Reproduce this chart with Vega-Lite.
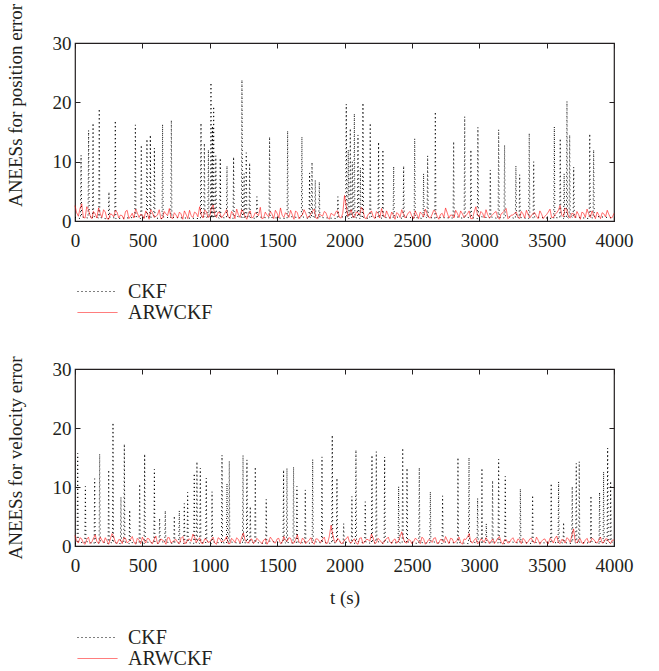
{
"$schema": "https://vega.github.io/schema/vega-lite/v6.json",
"padding": {"left": 5, "top": 2, "right": 5, "bottom": 2},
"bounds": "flush",
"spacing": 148,
"config": {
  "font": "Liberation Serif",
  "view": {"stroke": "#231f20", "strokeWidth": 1.2},
  "axis": {"labelFont": "Liberation Serif", "labelFontSize": 19, "labelColor": "#231f20", "titleFont": "Liberation Serif", "titleFontSize": 19, "titleFontWeight": "normal", "titleColor": "#231f20", "domain": false, "grid": false, "tickColor": "#231f20", "tickSize": -5, "labelFlush": false, "labelOverlap": false, "format": "d"},
  "axisX": {"labelPadding": 15},
  "axisY": {"labelPadding": 9, "titlePadding": 27},
  "legend": {"title": null, "orient": "none", "legendX": 12, "symbolType": "M-2,0H2", "symbolSize": 400, "symbolStrokeWidth": 1.3, "labelFont": "Liberation Serif", "labelFontSize": 20, "labelColor": "#231f20", "labelOffset": 20, "rowPadding": 0},
  "line": {"clip": true}
},
"datasets": {
"position": [
{"series":"CKF","t":0,"v":0.6},
{"series":"CKF","t":41,"v":0.4},{"series":"CKF","t":45,"v":11.1},{"series":"CKF","t":49,"v":0.7},
{"series":"CKF","t":97,"v":0.5},{"series":"CKF","t":101,"v":15.3},{"series":"CKF","t":105,"v":0.9},
{"series":"CKF","t":130,"v":0.4},{"series":"CKF","t":134,"v":16.5},{"series":"CKF","t":138,"v":0.8},
{"series":"CKF","t":176,"v":0.5},{"series":"CKF","t":180,"v":18.9},{"series":"CKF","t":184,"v":0.6},
{"series":"CKF","t":248,"v":0.3},{"series":"CKF","t":252,"v":4.9},{"series":"CKF","t":256,"v":0.7},
{"series":"CKF","t":295,"v":0.5},{"series":"CKF","t":299,"v":16.9},{"series":"CKF","t":303,"v":0.4},
{"series":"CKF","t":444,"v":0.6},{"series":"CKF","t":448,"v":16.2},{"series":"CKF","t":452,"v":0.8},
{"series":"CKF","t":488,"v":0.4},{"series":"CKF","t":492,"v":12.8},{"series":"CKF","t":496,"v":0.7},
{"series":"CKF","t":530,"v":0.5},{"series":"CKF","t":534,"v":13.8},{"series":"CKF","t":538,"v":0.9},
{"series":"CKF","t":555,"v":0.4},{"series":"CKF","t":559,"v":14.5},{"series":"CKF","t":563,"v":0.6},
{"series":"CKF","t":585,"v":0.8},{"series":"CKF","t":589,"v":12.3},{"series":"CKF","t":593,"v":0.5},
{"series":"CKF","t":646,"v":0.4},{"series":"CKF","t":650,"v":16.3},{"series":"CKF","t":654,"v":0.7},
{"series":"CKF","t":711,"v":0.5},{"series":"CKF","t":715,"v":17.0},{"series":"CKF","t":719,"v":0.6},
{"series":"CKF","t":931,"v":0.4},{"series":"CKF","t":935,"v":16.5},{"series":"CKF","t":939,"v":0.8},
{"series":"CKF","t":956,"v":0.5},{"series":"CKF","t":960,"v":13.1},{"series":"CKF","t":964,"v":0.9},
{"series":"CKF","t":986,"v":0.4},{"series":"CKF","t":990,"v":12.0},{"series":"CKF","t":994,"v":0.6},
{"series":"CKF","t":1005,"v":0.7},{"series":"CKF","t":1009,"v":23.3},{"series":"CKF","t":1013,"v":0.5},
{"series":"CKF","t":1016,"v":0.8},{"series":"CKF","t":1020,"v":16.0},{"series":"CKF","t":1024,"v":0.6},
{"series":"CKF","t":1025,"v":0.4},{"series":"CKF","t":1029,"v":19.3},{"series":"CKF","t":1033,"v":0.7},
{"series":"CKF","t":1041,"v":0.5},{"series":"CKF","t":1045,"v":11.0},{"series":"CKF","t":1049,"v":0.8},
{"series":"CKF","t":1074,"v":0.4},{"series":"CKF","t":1078,"v":10.6},{"series":"CKF","t":1082,"v":0.6},
{"series":"CKF","t":1124,"v":0.5},{"series":"CKF","t":1128,"v":9.3},{"series":"CKF","t":1132,"v":0.7},
{"series":"CKF","t":1173,"v":0.4},{"series":"CKF","t":1177,"v":10.8},{"series":"CKF","t":1181,"v":0.9},
{"series":"CKF","t":1235,"v":0.6},{"series":"CKF","t":1239,"v":23.8},{"series":"CKF","t":1243,"v":0.5},
{"series":"CKF","t":1251,"v":0.7},{"series":"CKF","t":1255,"v":8.0},{"series":"CKF","t":1259,"v":0.4},
{"series":"CKF","t":1267,"v":0.6},{"series":"CKF","t":1271,"v":11.5},{"series":"CKF","t":1275,"v":0.8},
{"series":"CKF","t":1292,"v":0.5},{"series":"CKF","t":1296,"v":9.8},{"series":"CKF","t":1300,"v":0.6},
{"series":"CKF","t":1346,"v":0.4},{"series":"CKF","t":1350,"v":4.1},{"series":"CKF","t":1354,"v":0.7},
{"series":"CKF","t":1440,"v":0.5},{"series":"CKF","t":1444,"v":14.2},{"series":"CKF","t":1448,"v":0.6},
{"series":"CKF","t":1574,"v":0.4},{"series":"CKF","t":1578,"v":15.2},{"series":"CKF","t":1582,"v":0.8},
{"series":"CKF","t":1680,"v":0.5},{"series":"CKF","t":1684,"v":14.2},{"series":"CKF","t":1688,"v":0.7},
{"series":"CKF","t":1737,"v":0.4},{"series":"CKF","t":1741,"v":8.1},{"series":"CKF","t":1745,"v":0.6},
{"series":"CKF","t":1755,"v":0.5},{"series":"CKF","t":1759,"v":9.9},{"series":"CKF","t":1763,"v":0.9},
{"series":"CKF","t":1779,"v":0.4},{"series":"CKF","t":1783,"v":6.9},{"series":"CKF","t":1787,"v":0.7},
{"series":"CKF","t":1809,"v":0.5},{"series":"CKF","t":1813,"v":6.6},{"series":"CKF","t":1817,"v":0.6},
{"series":"CKF","t":1947,"v":0.4},{"series":"CKF","t":1951,"v":4.1},{"series":"CKF","t":1955,"v":0.8},
{"series":"CKF","t":2009,"v":0.6},{"series":"CKF","t":2013,"v":19.7},{"series":"CKF","t":2017,"v":0.5},
{"series":"CKF","t":2024,"v":0.7},{"series":"CKF","t":2028,"v":12.0},{"series":"CKF","t":2032,"v":0.4},
{"series":"CKF","t":2039,"v":0.6},{"series":"CKF","t":2043,"v":15.6},{"series":"CKF","t":2047,"v":0.8},
{"series":"CKF","t":2054,"v":0.5},{"series":"CKF","t":2058,"v":10.0},{"series":"CKF","t":2062,"v":0.7},
{"series":"CKF","t":2069,"v":0.4},{"series":"CKF","t":2073,"v":18.1},{"series":"CKF","t":2077,"v":0.6},
{"series":"CKF","t":2096,"v":0.5},{"series":"CKF","t":2100,"v":14.5},{"series":"CKF","t":2104,"v":0.9},
{"series":"CKF","t":2114,"v":0.4},{"series":"CKF","t":2118,"v":9.0},{"series":"CKF","t":2122,"v":0.7},
{"series":"CKF","t":2133,"v":0.5},{"series":"CKF","t":2137,"v":19.9},{"series":"CKF","t":2141,"v":0.6},
{"series":"CKF","t":2187,"v":0.4},{"series":"CKF","t":2191,"v":16.5},{"series":"CKF","t":2195,"v":0.8},
{"series":"CKF","t":2249,"v":0.5},{"series":"CKF","t":2253,"v":13.3},{"series":"CKF","t":2257,"v":0.7},
{"series":"CKF","t":2281,"v":0.4},{"series":"CKF","t":2285,"v":12.0},{"series":"CKF","t":2289,"v":0.6},
{"series":"CKF","t":2361,"v":0.5},{"series":"CKF","t":2365,"v":9.2},{"series":"CKF","t":2369,"v":0.8},
{"series":"CKF","t":2435,"v":0.4},{"series":"CKF","t":2439,"v":9.3},{"series":"CKF","t":2443,"v":0.7},
{"series":"CKF","t":2517,"v":0.5},{"series":"CKF","t":2521,"v":13.9},{"series":"CKF","t":2525,"v":0.6},
{"series":"CKF","t":2583,"v":0.4},{"series":"CKF","t":2587,"v":8.0},{"series":"CKF","t":2591,"v":0.9},
{"series":"CKF","t":2613,"v":0.5},{"series":"CKF","t":2617,"v":11.0},{"series":"CKF","t":2621,"v":0.7},
{"series":"CKF","t":2670,"v":0.4},{"series":"CKF","t":2674,"v":18.4},{"series":"CKF","t":2678,"v":0.6},
{"series":"CKF","t":2806,"v":0.5},{"series":"CKF","t":2810,"v":13.4},{"series":"CKF","t":2814,"v":0.8},
{"series":"CKF","t":2888,"v":0.4},{"series":"CKF","t":2892,"v":17.6},{"series":"CKF","t":2896,"v":0.7},
{"series":"CKF","t":2934,"v":0.5},{"series":"CKF","t":2938,"v":12.0},{"series":"CKF","t":2942,"v":0.6},
{"series":"CKF","t":2986,"v":0.4},{"series":"CKF","t":2990,"v":15.8},{"series":"CKF","t":2994,"v":0.8},
{"series":"CKF","t":3078,"v":0.5},{"series":"CKF","t":3082,"v":8.6},{"series":"CKF","t":3086,"v":0.7},
{"series":"CKF","t":3140,"v":0.4},{"series":"CKF","t":3144,"v":15.4},{"series":"CKF","t":3148,"v":0.6},
{"series":"CKF","t":3184,"v":0.5},{"series":"CKF","t":3188,"v":12.8},{"series":"CKF","t":3192,"v":0.9},
{"series":"CKF","t":3268,"v":0.4},{"series":"CKF","t":3272,"v":9.3},{"series":"CKF","t":3276,"v":0.7},
{"series":"CKF","t":3296,"v":0.5},{"series":"CKF","t":3300,"v":7.8},{"series":"CKF","t":3304,"v":0.6},
{"series":"CKF","t":3367,"v":0.4},{"series":"CKF","t":3371,"v":14.8},{"series":"CKF","t":3375,"v":0.8},
{"series":"CKF","t":3400,"v":0.5},{"series":"CKF","t":3404,"v":10.0},{"series":"CKF","t":3408,"v":0.7},
{"series":"CKF","t":3553,"v":0.4},{"series":"CKF","t":3557,"v":15.9},{"series":"CKF","t":3561,"v":0.6},
{"series":"CKF","t":3597,"v":0.5},{"series":"CKF","t":3601,"v":13.9},{"series":"CKF","t":3605,"v":0.8},
{"series":"CKF","t":3626,"v":0.4},{"series":"CKF","t":3630,"v":8.0},{"series":"CKF","t":3634,"v":0.7},
{"series":"CKF","t":3647,"v":0.5},{"series":"CKF","t":3651,"v":20.2},{"series":"CKF","t":3655,"v":0.6},
{"series":"CKF","t":3667,"v":0.4},{"series":"CKF","t":3671,"v":14.5},{"series":"CKF","t":3675,"v":0.9},
{"series":"CKF","t":3697,"v":0.5},{"series":"CKF","t":3701,"v":9.1},{"series":"CKF","t":3705,"v":0.7},
{"series":"CKF","t":3816,"v":0.4},{"series":"CKF","t":3820,"v":14.7},{"series":"CKF","t":3824,"v":0.6},
{"series":"CKF","t":3845,"v":0.5},{"series":"CKF","t":3849,"v":12.0},{"series":"CKF","t":3853,"v":0.8},
{"series":"CKF","t":4000,"v":0.5},
{"series":"ARWCKF","t":0,"v":2.6},{"series":"ARWCKF","t":25,"v":0.8},{"series":"ARWCKF","t":50,"v":2.9},{"series":"ARWCKF","t":75,"v":0.5},{"series":"ARWCKF","t":100,"v":1.9},{"series":"ARWCKF","t":125,"v":0.4},{"series":"ARWCKF","t":150,"v":1.2},{"series":"ARWCKF","t":175,"v":2.2},{"series":"ARWCKF","t":200,"v":0.6},{"series":"ARWCKF","t":225,"v":1.5},
{"series":"ARWCKF","t":250,"v":0.3},{"series":"ARWCKF","t":275,"v":1.1},{"series":"ARWCKF","t":300,"v":1.8},{"series":"ARWCKF","t":325,"v":0.5},{"series":"ARWCKF","t":350,"v":0.9},{"series":"ARWCKF","t":375,"v":1.6},{"series":"ARWCKF","t":400,"v":0.4},{"series":"ARWCKF","t":425,"v":1.3},{"series":"ARWCKF","t":450,"v":2.0},{"series":"ARWCKF","t":475,"v":0.6},
{"series":"ARWCKF","t":500,"v":1.0},{"series":"ARWCKF","t":525,"v":1.7},{"series":"ARWCKF","t":550,"v":0.3},{"series":"ARWCKF","t":575,"v":1.4},{"series":"ARWCKF","t":600,"v":0.8},{"series":"ARWCKF","t":625,"v":1.9},{"series":"ARWCKF","t":650,"v":0.5},{"series":"ARWCKF","t":675,"v":1.2},{"series":"ARWCKF","t":700,"v":2.1},{"series":"ARWCKF","t":725,"v":0.4},
{"series":"ARWCKF","t":750,"v":1.0},{"series":"ARWCKF","t":775,"v":1.5},{"series":"ARWCKF","t":800,"v":0.3},{"series":"ARWCKF","t":825,"v":1.1},{"series":"ARWCKF","t":850,"v":1.8},{"series":"ARWCKF","t":875,"v":0.6},{"series":"ARWCKF","t":900,"v":1.3},{"series":"ARWCKF","t":925,"v":2.4},{"series":"ARWCKF","t":950,"v":0.5},{"series":"ARWCKF","t":975,"v":1.6},
{"series":"ARWCKF","t":1000,"v":0.8},{"series":"ARWCKF","t":1025,"v":2.7},{"series":"ARWCKF","t":1050,"v":0.6},{"series":"ARWCKF","t":1075,"v":1.4},{"series":"ARWCKF","t":1100,"v":0.9},{"series":"ARWCKF","t":1125,"v":1.9},{"series":"ARWCKF","t":1150,"v":0.4},{"series":"ARWCKF","t":1175,"v":1.2},{"series":"ARWCKF","t":1200,"v":2.0},{"series":"ARWCKF","t":1225,"v":0.6},
{"series":"ARWCKF","t":1250,"v":1.5},{"series":"ARWCKF","t":1275,"v":0.3},{"series":"ARWCKF","t":1300,"v":1.7},{"series":"ARWCKF","t":1325,"v":0.7},{"series":"ARWCKF","t":1350,"v":1.2},{"series":"ARWCKF","t":1375,"v":2.3},{"series":"ARWCKF","t":1400,"v":0.5},{"series":"ARWCKF","t":1425,"v":1.0},{"series":"ARWCKF","t":1450,"v":1.6},{"series":"ARWCKF","t":1475,"v":0.4},
{"series":"ARWCKF","t":1500,"v":1.3},{"series":"ARWCKF","t":1525,"v":2.2},{"series":"ARWCKF","t":1550,"v":0.6},{"series":"ARWCKF","t":1575,"v":1.1},{"series":"ARWCKF","t":1600,"v":1.8},{"series":"ARWCKF","t":1625,"v":0.3},{"series":"ARWCKF","t":1650,"v":1.4},{"series":"ARWCKF","t":1675,"v":0.8},{"series":"ARWCKF","t":1700,"v":1.9},{"series":"ARWCKF","t":1725,"v":0.5},
{"series":"ARWCKF","t":1750,"v":1.2},{"series":"ARWCKF","t":1775,"v":2.0},{"series":"ARWCKF","t":1800,"v":0.4},{"series":"ARWCKF","t":1825,"v":1.0},{"series":"ARWCKF","t":1850,"v":1.6},{"series":"ARWCKF","t":1875,"v":0.6},{"series":"ARWCKF","t":1900,"v":1.3},{"series":"ARWCKF","t":1925,"v":0.9},{"series":"ARWCKF","t":1950,"v":1.7},{"series":"ARWCKF","t":1975,"v":0.5},
{"series":"ARWCKF","t":2000,"v":4.3},{"series":"ARWCKF","t":2025,"v":0.8},{"series":"ARWCKF","t":2050,"v":1.9},{"series":"ARWCKF","t":2075,"v":0.6},{"series":"ARWCKF","t":2100,"v":1.4},{"series":"ARWCKF","t":2125,"v":2.3},{"series":"ARWCKF","t":2150,"v":0.5},{"series":"ARWCKF","t":2175,"v":1.1},{"series":"ARWCKF","t":2200,"v":1.7},{"series":"ARWCKF","t":2225,"v":0.4},
{"series":"ARWCKF","t":2250,"v":1.3},{"series":"ARWCKF","t":2275,"v":2.1},{"series":"ARWCKF","t":2300,"v":0.6},{"series":"ARWCKF","t":2325,"v":1.0},{"series":"ARWCKF","t":2350,"v":1.5},{"series":"ARWCKF","t":2375,"v":0.3},{"series":"ARWCKF","t":2400,"v":1.2},{"series":"ARWCKF","t":2425,"v":1.9},{"series":"ARWCKF","t":2450,"v":0.5},{"series":"ARWCKF","t":2475,"v":1.4},
{"series":"ARWCKF","t":2500,"v":0.8},{"series":"ARWCKF","t":2525,"v":1.7},{"series":"ARWCKF","t":2550,"v":0.4},{"series":"ARWCKF","t":2575,"v":1.2},{"series":"ARWCKF","t":2600,"v":2.0},{"series":"ARWCKF","t":2625,"v":0.6},{"series":"ARWCKF","t":2650,"v":1.1},{"series":"ARWCKF","t":2675,"v":1.6},{"series":"ARWCKF","t":2700,"v":0.3},{"series":"ARWCKF","t":2725,"v":1.3},
{"series":"ARWCKF","t":2750,"v":2.2},{"series":"ARWCKF","t":2775,"v":0.5},{"series":"ARWCKF","t":2800,"v":1.0},{"series":"ARWCKF","t":2825,"v":1.8},{"series":"ARWCKF","t":2850,"v":0.6},{"series":"ARWCKF","t":2875,"v":1.2},{"series":"ARWCKF","t":2900,"v":0.9},{"series":"ARWCKF","t":2925,"v":1.7},{"series":"ARWCKF","t":2950,"v":0.4},{"series":"ARWCKF","t":2975,"v":2.4},
{"series":"ARWCKF","t":3000,"v":0.7},{"series":"ARWCKF","t":3025,"v":1.3},{"series":"ARWCKF","t":3050,"v":1.9},{"series":"ARWCKF","t":3075,"v":0.5},{"series":"ARWCKF","t":3100,"v":1.1},{"series":"ARWCKF","t":3125,"v":1.6},{"series":"ARWCKF","t":3150,"v":0.3},{"series":"ARWCKF","t":3175,"v":1.4},{"series":"ARWCKF","t":3200,"v":2.1},{"series":"ARWCKF","t":3225,"v":0.6},
{"series":"ARWCKF","t":3250,"v":1.0},{"series":"ARWCKF","t":3275,"v":1.5},{"series":"ARWCKF","t":3300,"v":0.4},{"series":"ARWCKF","t":3325,"v":1.2},{"series":"ARWCKF","t":3350,"v":1.8},{"series":"ARWCKF","t":3375,"v":0.5},{"series":"ARWCKF","t":3400,"v":1.3},{"series":"ARWCKF","t":3425,"v":0.8},{"series":"ARWCKF","t":3450,"v":1.7},{"series":"ARWCKF","t":3475,"v":0.4},
{"series":"ARWCKF","t":3500,"v":1.1},{"series":"ARWCKF","t":3525,"v":2.0},{"series":"ARWCKF","t":3550,"v":0.6},{"series":"ARWCKF","t":3575,"v":1.4},{"series":"ARWCKF","t":3600,"v":2.6},{"series":"ARWCKF","t":3625,"v":0.7},{"series":"ARWCKF","t":3650,"v":1.9},{"series":"ARWCKF","t":3675,"v":0.5},{"series":"ARWCKF","t":3700,"v":1.2},{"series":"ARWCKF","t":3725,"v":1.6},
{"series":"ARWCKF","t":3750,"v":0.3},{"series":"ARWCKF","t":3775,"v":1.3},{"series":"ARWCKF","t":3800,"v":2.0},{"series":"ARWCKF","t":3825,"v":0.6},{"series":"ARWCKF","t":3850,"v":1.0},{"series":"ARWCKF","t":3875,"v":1.5},{"series":"ARWCKF","t":3900,"v":0.4},{"series":"ARWCKF","t":3925,"v":1.2},{"series":"ARWCKF","t":3950,"v":1.8},{"series":"ARWCKF","t":3975,"v":0.5},
{"series":"ARWCKF","t":4000,"v":1.3},
{"series":"ARWCKF","t":12,"v":1.4},{"series":"ARWCKF","t":37,"v":2.1},{"series":"ARWCKF","t":62,"v":0.6},{"series":"ARWCKF","t":87,"v":2.4},{"series":"ARWCKF","t":112,"v":0.9},{"series":"ARWCKF","t":137,"v":1.6},{"series":"ARWCKF","t":162,"v":0.5},{"series":"ARWCKF","t":187,"v":1.3},{"series":"ARWCKF","t":212,"v":1.9},{"series":"ARWCKF","t":237,"v":0.4},
{"series":"ARWCKF","t":262,"v":1.2},{"series":"ARWCKF","t":287,"v":0.7},{"series":"ARWCKF","t":312,"v":1.5},{"series":"ARWCKF","t":337,"v":1.0},{"series":"ARWCKF","t":362,"v":0.3},{"series":"ARWCKF","t":387,"v":1.8},{"series":"ARWCKF","t":412,"v":0.8},{"series":"ARWCKF","t":437,"v":0.5},{"series":"ARWCKF","t":462,"v":1.4},{"series":"ARWCKF","t":487,"v":1.1},
{"series":"ARWCKF","t":512,"v":0.4},{"series":"ARWCKF","t":537,"v":1.3},{"series":"ARWCKF","t":562,"v":1.9},{"series":"ARWCKF","t":587,"v":0.6},{"series":"ARWCKF","t":612,"v":1.0},{"series":"ARWCKF","t":637,"v":0.4},{"series":"ARWCKF","t":662,"v":1.6},{"series":"ARWCKF","t":687,"v":0.9},{"series":"ARWCKF","t":712,"v":0.6},{"series":"ARWCKF","t":737,"v":1.4},
{"series":"ARWCKF","t":762,"v":0.5},{"series":"ARWCKF","t":787,"v":1.2},{"series":"ARWCKF","t":812,"v":1.7},{"series":"ARWCKF","t":837,"v":0.4},{"series":"ARWCKF","t":862,"v":0.9},{"series":"ARWCKF","t":887,"v":1.5},{"series":"ARWCKF","t":912,"v":0.7},{"series":"ARWCKF","t":937,"v":1.1},{"series":"ARWCKF","t":962,"v":1.8},{"series":"ARWCKF","t":987,"v":0.6},
{"series":"ARWCKF","t":1012,"v":2.2},{"series":"ARWCKF","t":1037,"v":1.0},{"series":"ARWCKF","t":1062,"v":1.5},{"series":"ARWCKF","t":1087,"v":0.5},{"series":"ARWCKF","t":1112,"v":1.3},{"series":"ARWCKF","t":1137,"v":0.7},{"series":"ARWCKF","t":1162,"v":1.6},{"series":"ARWCKF","t":1187,"v":0.4},{"series":"ARWCKF","t":1212,"v":1.1},{"series":"ARWCKF","t":1237,"v":1.9},
{"series":"ARWCKF","t":1262,"v":0.8},{"series":"ARWCKF","t":1287,"v":1.2},{"series":"ARWCKF","t":1312,"v":0.5},{"series":"ARWCKF","t":1337,"v":1.4},{"series":"ARWCKF","t":1362,"v":0.9},{"series":"ARWCKF","t":1387,"v":0.4},{"series":"ARWCKF","t":1412,"v":1.5},{"series":"ARWCKF","t":1437,"v":0.7},{"series":"ARWCKF","t":1462,"v":1.2},{"series":"ARWCKF","t":1487,"v":1.8},
{"series":"ARWCKF","t":1512,"v":0.5},{"series":"ARWCKF","t":1537,"v":1.0},{"series":"ARWCKF","t":1562,"v":1.4},{"series":"ARWCKF","t":1587,"v":0.6},{"series":"ARWCKF","t":1612,"v":1.1},{"series":"ARWCKF","t":1637,"v":1.7},{"series":"ARWCKF","t":1662,"v":0.4},{"series":"ARWCKF","t":1687,"v":1.0},{"series":"ARWCKF","t":1712,"v":1.3},{"series":"ARWCKF","t":1737,"v":0.7},
{"series":"ARWCKF","t":1762,"v":1.6},{"series":"ARWCKF","t":1787,"v":0.5},{"series":"ARWCKF","t":1812,"v":1.2},{"series":"ARWCKF","t":1837,"v":0.8},{"series":"ARWCKF","t":1862,"v":1.4},{"series":"ARWCKF","t":1887,"v":0.3},{"series":"ARWCKF","t":1912,"v":1.1},{"series":"ARWCKF","t":1937,"v":1.6},{"series":"ARWCKF","t":1962,"v":0.6},{"series":"ARWCKF","t":1987,"v":1.3},
{"series":"ARWCKF","t":2012,"v":2.6},{"series":"ARWCKF","t":2037,"v":1.2},{"series":"ARWCKF","t":2062,"v":0.7},{"series":"ARWCKF","t":2087,"v":1.5},{"series":"ARWCKF","t":2112,"v":1.0},{"series":"ARWCKF","t":2137,"v":1.8},{"series":"ARWCKF","t":2162,"v":0.4},{"series":"ARWCKF","t":2187,"v":1.3},{"series":"ARWCKF","t":2212,"v":0.8},{"series":"ARWCKF","t":2237,"v":1.6},
{"series":"ARWCKF","t":2262,"v":0.5},{"series":"ARWCKF","t":2287,"v":1.1},{"series":"ARWCKF","t":2312,"v":1.7},{"series":"ARWCKF","t":2337,"v":0.4},{"series":"ARWCKF","t":2362,"v":1.0},{"series":"ARWCKF","t":2387,"v":1.4},{"series":"ARWCKF","t":2412,"v":0.6},{"series":"ARWCKF","t":2437,"v":1.2},{"series":"ARWCKF","t":2462,"v":0.9},{"series":"ARWCKF","t":2487,"v":1.6},
{"series":"ARWCKF","t":2512,"v":0.4},{"series":"ARWCKF","t":2537,"v":1.1},{"series":"ARWCKF","t":2562,"v":1.5},{"series":"ARWCKF","t":2587,"v":0.7},{"series":"ARWCKF","t":2612,"v":1.3},{"series":"ARWCKF","t":2637,"v":0.5},{"series":"ARWCKF","t":2662,"v":1.8},{"series":"ARWCKF","t":2687,"v":0.8},{"series":"ARWCKF","t":2712,"v":1.1},{"series":"ARWCKF","t":2737,"v":0.6},
{"series":"ARWCKF","t":2762,"v":1.4},{"series":"ARWCKF","t":2787,"v":1.0},{"series":"ARWCKF","t":2812,"v":0.5},{"series":"ARWCKF","t":2837,"v":1.3},{"series":"ARWCKF","t":2862,"v":1.7},{"series":"ARWCKF","t":2887,"v":0.6},{"series":"ARWCKF","t":2912,"v":1.2},{"series":"ARWCKF","t":2937,"v":0.4},{"series":"ARWCKF","t":2962,"v":1.5},{"series":"ARWCKF","t":2987,"v":1.0},
{"series":"ARWCKF","t":3012,"v":1.6},{"series":"ARWCKF","t":3037,"v":0.5},{"series":"ARWCKF","t":3062,"v":1.1},{"series":"ARWCKF","t":3087,"v":0.8},{"series":"ARWCKF","t":3112,"v":1.4},{"series":"ARWCKF","t":3137,"v":0.6},{"series":"ARWCKF","t":3162,"v":1.2},{"series":"ARWCKF","t":3187,"v":1.7},{"series":"ARWCKF","t":3212,"v":0.4},{"series":"ARWCKF","t":3237,"v":1.0},
{"series":"ARWCKF","t":3262,"v":1.3},{"series":"ARWCKF","t":3287,"v":0.7},{"series":"ARWCKF","t":3312,"v":1.6},{"series":"ARWCKF","t":3337,"v":0.5},{"series":"ARWCKF","t":3362,"v":1.1},{"series":"ARWCKF","t":3387,"v":0.9},{"series":"ARWCKF","t":3412,"v":1.4},{"series":"ARWCKF","t":3437,"v":0.4},{"series":"ARWCKF","t":3462,"v":1.2},{"series":"ARWCKF","t":3487,"v":0.8},
{"series":"ARWCKF","t":3512,"v":1.5},{"series":"ARWCKF","t":3537,"v":0.6},{"series":"ARWCKF","t":3562,"v":1.1},{"series":"ARWCKF","t":3587,"v":1.8},{"series":"ARWCKF","t":3612,"v":1.0},{"series":"ARWCKF","t":3637,"v":2.2},{"series":"ARWCKF","t":3662,"v":0.7},{"series":"ARWCKF","t":3687,"v":1.3},{"series":"ARWCKF","t":3712,"v":0.5},{"series":"ARWCKF","t":3737,"v":1.1},
{"series":"ARWCKF","t":3762,"v":1.5},{"series":"ARWCKF","t":3787,"v":0.6},{"series":"ARWCKF","t":3812,"v":1.2},{"series":"ARWCKF","t":3837,"v":1.7},{"series":"ARWCKF","t":3862,"v":0.4},{"series":"ARWCKF","t":3887,"v":1.0},{"series":"ARWCKF","t":3912,"v":1.4},{"series":"ARWCKF","t":3937,"v":0.7},{"series":"ARWCKF","t":3962,"v":1.1},{"series":"ARWCKF","t":3987,"v":0.6}
],
"velocity": [
{"series":"CKF","t":0,"v":0.5},
{"series":"CKF","t":16,"v":0.4},{"series":"CKF","t":20,"v":15.7},{"series":"CKF","t":24,"v":0.7},
{"series":"CKF","t":73,"v":0.5},{"series":"CKF","t":77,"v":10.1},{"series":"CKF","t":81,"v":0.8},
{"series":"CKF","t":142,"v":0.4},{"series":"CKF","t":146,"v":11.4},{"series":"CKF","t":150,"v":0.6},
{"series":"CKF","t":179,"v":0.5},{"series":"CKF","t":183,"v":15.6},{"series":"CKF","t":187,"v":0.9},
{"series":"CKF","t":246,"v":0.4},{"series":"CKF","t":250,"v":12.9},{"series":"CKF","t":254,"v":0.7},
{"series":"CKF","t":278,"v":0.5},{"series":"CKF","t":282,"v":20.9},{"series":"CKF","t":286,"v":0.6},
{"series":"CKF","t":337,"v":0.4},{"series":"CKF","t":341,"v":8.3},{"series":"CKF","t":345,"v":0.8},
{"series":"CKF","t":362,"v":0.5},{"series":"CKF","t":366,"v":17.3},{"series":"CKF","t":370,"v":0.7},
{"series":"CKF","t":402,"v":0.4},{"series":"CKF","t":406,"v":6.1},{"series":"CKF","t":410,"v":0.6},
{"series":"CKF","t":476,"v":0.5},{"series":"CKF","t":480,"v":10.5},{"series":"CKF","t":484,"v":0.8},
{"series":"CKF","t":513,"v":0.4},{"series":"CKF","t":517,"v":15.6},{"series":"CKF","t":521,"v":0.7},
{"series":"CKF","t":585,"v":0.5},{"series":"CKF","t":589,"v":13.0},{"series":"CKF","t":593,"v":0.6},
{"series":"CKF","t":624,"v":0.4},{"series":"CKF","t":628,"v":4.7},{"series":"CKF","t":632,"v":0.9},
{"series":"CKF","t":666,"v":0.5},{"series":"CKF","t":670,"v":6.0},{"series":"CKF","t":674,"v":0.7},
{"series":"CKF","t":733,"v":0.4},{"series":"CKF","t":737,"v":5.1},{"series":"CKF","t":741,"v":0.6},
{"series":"CKF","t":770,"v":0.5},{"series":"CKF","t":774,"v":6.0},{"series":"CKF","t":778,"v":0.8},
{"series":"CKF","t":807,"v":0.4},{"series":"CKF","t":811,"v":7.2},{"series":"CKF","t":815,"v":0.7},
{"series":"CKF","t":832,"v":0.5},{"series":"CKF","t":836,"v":9.1},{"series":"CKF","t":840,"v":0.6},
{"series":"CKF","t":881,"v":0.4},{"series":"CKF","t":885,"v":12.3},{"series":"CKF","t":889,"v":0.8},
{"series":"CKF","t":901,"v":0.5},{"series":"CKF","t":905,"v":14.3},{"series":"CKF","t":909,"v":0.7},
{"series":"CKF","t":926,"v":0.4},{"series":"CKF","t":930,"v":13.2},{"series":"CKF","t":934,"v":0.6},
{"series":"CKF","t":970,"v":0.5},{"series":"CKF","t":974,"v":11.5},{"series":"CKF","t":978,"v":0.9},
{"series":"CKF","t":1013,"v":0.4},{"series":"CKF","t":1017,"v":9.2},{"series":"CKF","t":1021,"v":0.7},
{"series":"CKF","t":1087,"v":0.5},{"series":"CKF","t":1091,"v":15.4},{"series":"CKF","t":1095,"v":0.6},
{"series":"CKF","t":1124,"v":0.4},{"series":"CKF","t":1128,"v":10.6},{"series":"CKF","t":1132,"v":0.8},
{"series":"CKF","t":1141,"v":0.5},{"series":"CKF","t":1145,"v":14.4},{"series":"CKF","t":1149,"v":0.7},
{"series":"CKF","t":1243,"v":0.4},{"series":"CKF","t":1247,"v":15.4},{"series":"CKF","t":1251,"v":0.6},
{"series":"CKF","t":1272,"v":0.5},{"series":"CKF","t":1276,"v":14.6},{"series":"CKF","t":1280,"v":0.8},
{"series":"CKF","t":1297,"v":0.4},{"series":"CKF","t":1301,"v":6.7},{"series":"CKF","t":1305,"v":0.7},
{"series":"CKF","t":1334,"v":0.5},{"series":"CKF","t":1338,"v":13.4},{"series":"CKF","t":1342,"v":0.6},
{"series":"CKF","t":1415,"v":0.4},{"series":"CKF","t":1419,"v":7.9},{"series":"CKF","t":1423,"v":0.9},
{"series":"CKF","t":1544,"v":0.5},{"series":"CKF","t":1548,"v":12.9},{"series":"CKF","t":1552,"v":0.7},
{"series":"CKF","t":1569,"v":0.4},{"series":"CKF","t":1573,"v":13.2},{"series":"CKF","t":1577,"v":0.6},
{"series":"CKF","t":1618,"v":0.5},{"series":"CKF","t":1622,"v":13.4},{"series":"CKF","t":1626,"v":0.8},
{"series":"CKF","t":1643,"v":0.4},{"series":"CKF","t":1647,"v":10.1},{"series":"CKF","t":1651,"v":0.7},
{"series":"CKF","t":1705,"v":0.5},{"series":"CKF","t":1709,"v":9.5},{"series":"CKF","t":1713,"v":0.6},
{"series":"CKF","t":1760,"v":0.4},{"series":"CKF","t":1764,"v":14.7},{"series":"CKF","t":1768,"v":0.8},
{"series":"CKF","t":1829,"v":0.5},{"series":"CKF","t":1833,"v":15.1},{"series":"CKF","t":1837,"v":0.7},
{"series":"CKF","t":1905,"v":0.4},{"series":"CKF","t":1909,"v":18.8},{"series":"CKF","t":1913,"v":0.6},
{"series":"CKF","t":1940,"v":0.5},{"series":"CKF","t":1944,"v":11.5},{"series":"CKF","t":1948,"v":0.9},
{"series":"CKF","t":1990,"v":0.4},{"series":"CKF","t":1994,"v":3.8},{"series":"CKF","t":1998,"v":0.7},
{"series":"CKF","t":2051,"v":0.5},{"series":"CKF","t":2055,"v":8.4},{"series":"CKF","t":2059,"v":0.6},
{"series":"CKF","t":2081,"v":0.4},{"series":"CKF","t":2085,"v":16.3},{"series":"CKF","t":2089,"v":0.8},
{"series":"CKF","t":2150,"v":0.5},{"series":"CKF","t":2154,"v":7.5},{"series":"CKF","t":2158,"v":0.7},
{"series":"CKF","t":2200,"v":0.4},{"series":"CKF","t":2204,"v":15.4},{"series":"CKF","t":2208,"v":0.6},
{"series":"CKF","t":2232,"v":0.5},{"series":"CKF","t":2236,"v":16.0},{"series":"CKF","t":2240,"v":0.8},
{"series":"CKF","t":2294,"v":0.4},{"series":"CKF","t":2298,"v":15.1},{"series":"CKF","t":2302,"v":0.7},
{"series":"CKF","t":2398,"v":0.5},{"series":"CKF","t":2402,"v":10.1},{"series":"CKF","t":2406,"v":0.6},
{"series":"CKF","t":2428,"v":0.4},{"series":"CKF","t":2432,"v":16.6},{"series":"CKF","t":2436,"v":0.9},
{"series":"CKF","t":2460,"v":0.5},{"series":"CKF","t":2464,"v":13.2},{"series":"CKF","t":2468,"v":0.7},
{"series":"CKF","t":2551,"v":0.4},{"series":"CKF","t":2555,"v":13.3},{"series":"CKF","t":2559,"v":0.6},
{"series":"CKF","t":2633,"v":0.5},{"series":"CKF","t":2637,"v":9.2},{"series":"CKF","t":2641,"v":0.8},
{"series":"CKF","t":2724,"v":0.4},{"series":"CKF","t":2728,"v":8.5},{"series":"CKF","t":2732,"v":0.7},
{"series":"CKF","t":2838,"v":0.5},{"series":"CKF","t":2842,"v":15.0},{"series":"CKF","t":2846,"v":0.6},
{"series":"CKF","t":2920,"v":0.4},{"series":"CKF","t":2924,"v":15.0},{"series":"CKF","t":2928,"v":0.8},
{"series":"CKF","t":2984,"v":0.5},{"series":"CKF","t":2988,"v":8.1},{"series":"CKF","t":2992,"v":0.7},
{"series":"CKF","t":3016,"v":0.4},{"series":"CKF","t":3020,"v":13.2},{"series":"CKF","t":3024,"v":0.6},
{"series":"CKF","t":3048,"v":0.5},{"series":"CKF","t":3052,"v":3.8},{"series":"CKF","t":3056,"v":0.9},
{"series":"CKF","t":3095,"v":0.4},{"series":"CKF","t":3099,"v":11.1},{"series":"CKF","t":3103,"v":0.7},
{"series":"CKF","t":3140,"v":0.5},{"series":"CKF","t":3144,"v":14.7},{"series":"CKF","t":3148,"v":0.6},
{"series":"CKF","t":3189,"v":0.4},{"series":"CKF","t":3193,"v":11.8},{"series":"CKF","t":3197,"v":0.8},
{"series":"CKF","t":3301,"v":0.5},{"series":"CKF","t":3305,"v":9.7},{"series":"CKF","t":3309,"v":0.7},
{"series":"CKF","t":3392,"v":0.4},{"series":"CKF","t":3396,"v":8.6},{"series":"CKF","t":3400,"v":0.6},
{"series":"CKF","t":3530,"v":0.5},{"series":"CKF","t":3534,"v":10.6},{"series":"CKF","t":3538,"v":0.8},
{"series":"CKF","t":3585,"v":0.4},{"series":"CKF","t":3589,"v":10.9},{"series":"CKF","t":3593,"v":0.7},
{"series":"CKF","t":3622,"v":0.5},{"series":"CKF","t":3626,"v":4.0},{"series":"CKF","t":3630,"v":0.6},
{"series":"CKF","t":3686,"v":0.4},{"series":"CKF","t":3690,"v":10.1},{"series":"CKF","t":3694,"v":0.9},
{"series":"CKF","t":3716,"v":0.5},{"series":"CKF","t":3720,"v":14.0},{"series":"CKF","t":3724,"v":0.7},
{"series":"CKF","t":3738,"v":0.4},{"series":"CKF","t":3742,"v":14.3},{"series":"CKF","t":3746,"v":0.6},
{"series":"CKF","t":3825,"v":0.5},{"series":"CKF","t":3829,"v":8.5},{"series":"CKF","t":3833,"v":0.8},
{"series":"CKF","t":3889,"v":0.4},{"series":"CKF","t":3893,"v":9.1},{"series":"CKF","t":3897,"v":0.7},
{"series":"CKF","t":3919,"v":0.5},{"series":"CKF","t":3923,"v":12.6},{"series":"CKF","t":3927,"v":0.6},
{"series":"CKF","t":3949,"v":0.4},{"series":"CKF","t":3953,"v":16.6},{"series":"CKF","t":3957,"v":0.8},
{"series":"CKF","t":3971,"v":0.5},{"series":"CKF","t":3975,"v":11.0},{"series":"CKF","t":3979,"v":0.7},
{"series":"CKF","t":4000,"v":0.6},
{"series":"ARWCKF","t":0,"v":1.8},{"series":"ARWCKF","t":25,"v":0.5},{"series":"ARWCKF","t":50,"v":1.2},{"series":"ARWCKF","t":75,"v":0.3},{"series":"ARWCKF","t":100,"v":1.5},{"series":"ARWCKF","t":125,"v":0.7},{"series":"ARWCKF","t":150,"v":1.9},{"series":"ARWCKF","t":175,"v":0.4},{"series":"ARWCKF","t":200,"v":1.0},{"series":"ARWCKF","t":225,"v":1.4},
{"series":"ARWCKF","t":250,"v":0.3},{"series":"ARWCKF","t":275,"v":2.1},{"series":"ARWCKF","t":300,"v":0.6},{"series":"ARWCKF","t":325,"v":1.1},{"series":"ARWCKF","t":350,"v":0.4},{"series":"ARWCKF","t":375,"v":1.3},{"series":"ARWCKF","t":400,"v":0.8},{"series":"ARWCKF","t":425,"v":1.6},{"series":"ARWCKF","t":450,"v":0.3},{"series":"ARWCKF","t":475,"v":1.0},
{"series":"ARWCKF","t":500,"v":1.5},{"series":"ARWCKF","t":525,"v":0.5},{"series":"ARWCKF","t":550,"v":1.2},{"series":"ARWCKF","t":575,"v":0.4},{"series":"ARWCKF","t":600,"v":1.7},{"series":"ARWCKF","t":625,"v":0.6},{"series":"ARWCKF","t":650,"v":1.0},{"series":"ARWCKF","t":675,"v":0.3},{"series":"ARWCKF","t":700,"v":1.4},{"series":"ARWCKF","t":725,"v":0.7},
{"series":"ARWCKF","t":750,"v":1.1},{"series":"ARWCKF","t":775,"v":0.4},{"series":"ARWCKF","t":800,"v":1.6},{"series":"ARWCKF","t":825,"v":0.5},{"series":"ARWCKF","t":850,"v":1.2},{"series":"ARWCKF","t":875,"v":2.0},{"series":"ARWCKF","t":900,"v":0.6},{"series":"ARWCKF","t":925,"v":1.4},{"series":"ARWCKF","t":950,"v":0.4},{"series":"ARWCKF","t":975,"v":1.1},
{"series":"ARWCKF","t":1000,"v":0.7},{"series":"ARWCKF","t":1025,"v":1.5},{"series":"ARWCKF","t":1050,"v":0.3},{"series":"ARWCKF","t":1075,"v":1.2},{"series":"ARWCKF","t":1100,"v":0.8},{"series":"ARWCKF","t":1125,"v":1.6},{"series":"ARWCKF","t":1150,"v":0.4},{"series":"ARWCKF","t":1175,"v":1.0},{"series":"ARWCKF","t":1200,"v":1.4},{"series":"ARWCKF","t":1225,"v":0.5},
{"series":"ARWCKF","t":1250,"v":2.2},{"series":"ARWCKF","t":1275,"v":0.6},{"series":"ARWCKF","t":1300,"v":1.1},{"series":"ARWCKF","t":1325,"v":0.4},{"series":"ARWCKF","t":1350,"v":1.3},{"series":"ARWCKF","t":1375,"v":0.7},{"series":"ARWCKF","t":1400,"v":1.0},{"series":"ARWCKF","t":1425,"v":0.3},{"series":"ARWCKF","t":1450,"v":1.5},{"series":"ARWCKF","t":1475,"v":0.6},
{"series":"ARWCKF","t":1500,"v":1.2},{"series":"ARWCKF","t":1525,"v":0.4},{"series":"ARWCKF","t":1550,"v":1.6},{"series":"ARWCKF","t":1575,"v":0.8},{"series":"ARWCKF","t":1600,"v":1.3},{"series":"ARWCKF","t":1625,"v":0.5},{"series":"ARWCKF","t":1650,"v":1.9},{"series":"ARWCKF","t":1675,"v":0.4},{"series":"ARWCKF","t":1700,"v":1.1},{"series":"ARWCKF","t":1725,"v":0.7},
{"series":"ARWCKF","t":1750,"v":1.4},{"series":"ARWCKF","t":1775,"v":0.3},{"series":"ARWCKF","t":1800,"v":1.2},{"series":"ARWCKF","t":1825,"v":0.6},{"series":"ARWCKF","t":1850,"v":1.5},{"series":"ARWCKF","t":1875,"v":0.5},{"series":"ARWCKF","t":1900,"v":3.5},{"series":"ARWCKF","t":1925,"v":0.8},{"series":"ARWCKF","t":1950,"v":1.3},{"series":"ARWCKF","t":1975,"v":0.4},
{"series":"ARWCKF","t":2000,"v":1.0},{"series":"ARWCKF","t":2025,"v":1.6},{"series":"ARWCKF","t":2050,"v":0.5},{"series":"ARWCKF","t":2075,"v":1.2},{"series":"ARWCKF","t":2100,"v":0.3},{"series":"ARWCKF","t":2125,"v":1.4},{"series":"ARWCKF","t":2150,"v":0.7},{"series":"ARWCKF","t":2175,"v":1.1},{"series":"ARWCKF","t":2200,"v":2.0},{"series":"ARWCKF","t":2225,"v":0.4},
{"series":"ARWCKF","t":2250,"v":1.3},{"series":"ARWCKF","t":2275,"v":0.6},{"series":"ARWCKF","t":2300,"v":1.0},{"series":"ARWCKF","t":2325,"v":1.5},{"series":"ARWCKF","t":2350,"v":0.4},{"series":"ARWCKF","t":2375,"v":1.2},{"series":"ARWCKF","t":2400,"v":0.7},{"series":"ARWCKF","t":2425,"v":2.4},{"series":"ARWCKF","t":2450,"v":0.6},{"series":"ARWCKF","t":2475,"v":1.1},
{"series":"ARWCKF","t":2500,"v":0.4},{"series":"ARWCKF","t":2525,"v":1.3},{"series":"ARWCKF","t":2550,"v":0.8},{"series":"ARWCKF","t":2575,"v":1.5},{"series":"ARWCKF","t":2600,"v":0.3},{"series":"ARWCKF","t":2625,"v":1.1},{"series":"ARWCKF","t":2650,"v":0.6},{"series":"ARWCKF","t":2675,"v":1.4},{"series":"ARWCKF","t":2700,"v":0.5},{"series":"ARWCKF","t":2725,"v":1.0},
{"series":"ARWCKF","t":2750,"v":1.6},{"series":"ARWCKF","t":2775,"v":0.4},{"series":"ARWCKF","t":2800,"v":1.2},{"series":"ARWCKF","t":2825,"v":0.7},{"series":"ARWCKF","t":2850,"v":1.5},{"series":"ARWCKF","t":2875,"v":0.3},{"series":"ARWCKF","t":2900,"v":1.1},{"series":"ARWCKF","t":2925,"v":2.1},{"series":"ARWCKF","t":2950,"v":0.5},{"series":"ARWCKF","t":2975,"v":1.3},
{"series":"ARWCKF","t":3000,"v":0.6},{"series":"ARWCKF","t":3025,"v":1.0},{"series":"ARWCKF","t":3050,"v":1.4},{"series":"ARWCKF","t":3075,"v":0.4},{"series":"ARWCKF","t":3100,"v":1.2},{"series":"ARWCKF","t":3125,"v":0.8},{"series":"ARWCKF","t":3150,"v":1.6},{"series":"ARWCKF","t":3175,"v":0.3},{"series":"ARWCKF","t":3200,"v":1.1},{"series":"ARWCKF","t":3225,"v":0.6},
{"series":"ARWCKF","t":3250,"v":1.4},{"series":"ARWCKF","t":3275,"v":0.5},{"series":"ARWCKF","t":3300,"v":1.0},{"series":"ARWCKF","t":3325,"v":1.3},{"series":"ARWCKF","t":3350,"v":0.4},{"series":"ARWCKF","t":3375,"v":1.2},{"series":"ARWCKF","t":3400,"v":0.7},{"series":"ARWCKF","t":3425,"v":1.5},{"series":"ARWCKF","t":3450,"v":0.3},{"series":"ARWCKF","t":3475,"v":1.1},
{"series":"ARWCKF","t":3500,"v":0.6},{"series":"ARWCKF","t":3525,"v":1.3},{"series":"ARWCKF","t":3550,"v":0.5},{"series":"ARWCKF","t":3575,"v":1.7},{"series":"ARWCKF","t":3600,"v":0.4},{"series":"ARWCKF","t":3625,"v":1.0},{"series":"ARWCKF","t":3650,"v":1.4},{"series":"ARWCKF","t":3675,"v":0.6},{"series":"ARWCKF","t":3700,"v":2.9},{"series":"ARWCKF","t":3725,"v":0.5},
{"series":"ARWCKF","t":3750,"v":1.2},{"series":"ARWCKF","t":3775,"v":0.4},{"series":"ARWCKF","t":3800,"v":1.3},{"series":"ARWCKF","t":3825,"v":0.7},{"series":"ARWCKF","t":3850,"v":1.1},{"series":"ARWCKF","t":3875,"v":0.5},{"series":"ARWCKF","t":3900,"v":1.5},{"series":"ARWCKF","t":3925,"v":0.6},{"series":"ARWCKF","t":3950,"v":1.2},{"series":"ARWCKF","t":3975,"v":0.4},
{"series":"ARWCKF","t":4000,"v":1.0},
{"series":"ARWCKF","t":12,"v":0.9},{"series":"ARWCKF","t":37,"v":1.4},{"series":"ARWCKF","t":62,"v":0.5},{"series":"ARWCKF","t":87,"v":1.1},{"series":"ARWCKF","t":112,"v":0.4},{"series":"ARWCKF","t":137,"v":1.3},{"series":"ARWCKF","t":162,"v":0.8},{"series":"ARWCKF","t":187,"v":1.5},{"series":"ARWCKF","t":212,"v":0.5},{"series":"ARWCKF","t":237,"v":0.9},
{"series":"ARWCKF","t":262,"v":1.2},{"series":"ARWCKF","t":287,"v":1.6},{"series":"ARWCKF","t":312,"v":0.4},{"series":"ARWCKF","t":337,"v":1.0},{"series":"ARWCKF","t":362,"v":1.4},{"series":"ARWCKF","t":387,"v":0.5},{"series":"ARWCKF","t":412,"v":1.1},{"series":"ARWCKF","t":437,"v":0.7},{"series":"ARWCKF","t":462,"v":1.3},{"series":"ARWCKF","t":487,"v":0.4},
{"series":"ARWCKF","t":512,"v":1.0},{"series":"ARWCKF","t":537,"v":1.3},{"series":"ARWCKF","t":562,"v":0.6},{"series":"ARWCKF","t":587,"v":1.1},{"series":"ARWCKF","t":612,"v":0.4},{"series":"ARWCKF","t":637,"v":1.2},{"series":"ARWCKF","t":662,"v":0.8},{"series":"ARWCKF","t":687,"v":1.4},{"series":"ARWCKF","t":712,"v":0.5},{"series":"ARWCKF","t":737,"v":1.0},
{"series":"ARWCKF","t":762,"v":0.6},{"series":"ARWCKF","t":787,"v":1.3},{"series":"ARWCKF","t":812,"v":0.4},{"series":"ARWCKF","t":837,"v":1.1},{"series":"ARWCKF","t":862,"v":0.8},{"series":"ARWCKF","t":887,"v":1.5},{"series":"ARWCKF","t":912,"v":1.0},{"series":"ARWCKF","t":937,"v":0.5},{"series":"ARWCKF","t":962,"v":1.2},{"series":"ARWCKF","t":987,"v":0.6},
{"series":"ARWCKF","t":1012,"v":1.1},{"series":"ARWCKF","t":1037,"v":0.5},{"series":"ARWCKF","t":1062,"v":1.4},{"series":"ARWCKF","t":1087,"v":0.7},{"series":"ARWCKF","t":1112,"v":1.0},{"series":"ARWCKF","t":1137,"v":0.4},{"series":"ARWCKF","t":1162,"v":1.3},{"series":"ARWCKF","t":1187,"v":0.6},{"series":"ARWCKF","t":1212,"v":1.1},{"series":"ARWCKF","t":1237,"v":1.5},
{"series":"ARWCKF","t":1262,"v":1.0},{"series":"ARWCKF","t":1287,"v":0.5},{"series":"ARWCKF","t":1312,"v":1.2},{"series":"ARWCKF","t":1337,"v":0.7},{"series":"ARWCKF","t":1362,"v":1.0},{"series":"ARWCKF","t":1387,"v":0.4},{"series":"ARWCKF","t":1412,"v":1.2},{"series":"ARWCKF","t":1437,"v":0.8},{"series":"ARWCKF","t":1462,"v":1.1},{"series":"ARWCKF","t":1487,"v":0.5},
{"series":"ARWCKF","t":1512,"v":1.3},{"series":"ARWCKF","t":1537,"v":0.6},{"series":"ARWCKF","t":1562,"v":1.0},{"series":"ARWCKF","t":1587,"v":1.4},{"series":"ARWCKF","t":1612,"v":0.5},{"series":"ARWCKF","t":1637,"v":1.1},{"series":"ARWCKF","t":1662,"v":0.7},{"series":"ARWCKF","t":1687,"v":1.3},{"series":"ARWCKF","t":1712,"v":0.4},{"series":"ARWCKF","t":1737,"v":1.0},
{"series":"ARWCKF","t":1762,"v":0.6},{"series":"ARWCKF","t":1787,"v":1.2},{"series":"ARWCKF","t":1812,"v":0.8},{"series":"ARWCKF","t":1837,"v":1.1},{"series":"ARWCKF","t":1862,"v":0.4},{"series":"ARWCKF","t":1887,"v":1.6},{"series":"ARWCKF","t":1912,"v":2.0},{"series":"ARWCKF","t":1937,"v":0.6},{"series":"ARWCKF","t":1962,"v":1.0},{"series":"ARWCKF","t":1987,"v":0.5},
{"series":"ARWCKF","t":2012,"v":1.2},{"series":"ARWCKF","t":2037,"v":0.7},{"series":"ARWCKF","t":2062,"v":1.0},{"series":"ARWCKF","t":2087,"v":0.5},{"series":"ARWCKF","t":2112,"v":1.3},{"series":"ARWCKF","t":2137,"v":0.4},{"series":"ARWCKF","t":2162,"v":1.1},{"series":"ARWCKF","t":2187,"v":0.8},{"series":"ARWCKF","t":2212,"v":1.4},{"series":"ARWCKF","t":2237,"v":0.6},
{"series":"ARWCKF","t":2262,"v":1.0},{"series":"ARWCKF","t":2287,"v":0.4},{"series":"ARWCKF","t":2312,"v":1.2},{"series":"ARWCKF","t":2337,"v":0.7},{"series":"ARWCKF","t":2362,"v":1.0},{"series":"ARWCKF","t":2387,"v":0.5},{"series":"ARWCKF","t":2412,"v":1.6},{"series":"ARWCKF","t":2437,"v":1.2},{"series":"ARWCKF","t":2462,"v":0.5},{"series":"ARWCKF","t":2487,"v":1.0},
{"series":"ARWCKF","t":2512,"v":0.7},{"series":"ARWCKF","t":2537,"v":1.1},{"series":"ARWCKF","t":2562,"v":0.4},{"series":"ARWCKF","t":2587,"v":1.2},{"series":"ARWCKF","t":2612,"v":0.6},{"series":"ARWCKF","t":2637,"v":0.9},{"series":"ARWCKF","t":2662,"v":1.3},{"series":"ARWCKF","t":2687,"v":0.4},{"series":"ARWCKF","t":2712,"v":1.1},{"series":"ARWCKF","t":2737,"v":0.6},
{"series":"ARWCKF","t":2762,"v":1.0},{"series":"ARWCKF","t":2787,"v":1.3},{"series":"ARWCKF","t":2812,"v":0.5},{"series":"ARWCKF","t":2837,"v":1.0},{"series":"ARWCKF","t":2862,"v":0.6},{"series":"ARWCKF","t":2887,"v":1.2},{"series":"ARWCKF","t":2912,"v":1.5},{"series":"ARWCKF","t":2937,"v":0.7},{"series":"ARWCKF","t":2962,"v":1.0},{"series":"ARWCKF","t":2987,"v":0.4},
{"series":"ARWCKF","t":3012,"v":1.2},{"series":"ARWCKF","t":3037,"v":0.6},{"series":"ARWCKF","t":3062,"v":1.0},{"series":"ARWCKF","t":3087,"v":0.8},{"series":"ARWCKF","t":3112,"v":0.4},{"series":"ARWCKF","t":3137,"v":1.3},{"series":"ARWCKF","t":3162,"v":0.7},{"series":"ARWCKF","t":3187,"v":1.0},{"series":"ARWCKF","t":3212,"v":0.5},{"series":"ARWCKF","t":3237,"v":1.1},
{"series":"ARWCKF","t":3262,"v":0.8},{"series":"ARWCKF","t":3287,"v":1.2},{"series":"ARWCKF","t":3312,"v":0.4},{"series":"ARWCKF","t":3337,"v":1.0},{"series":"ARWCKF","t":3362,"v":0.7},{"series":"ARWCKF","t":3387,"v":1.3},{"series":"ARWCKF","t":3412,"v":0.5},{"series":"ARWCKF","t":3437,"v":1.0},{"series":"ARWCKF","t":3462,"v":0.8},{"series":"ARWCKF","t":3487,"v":1.2},
{"series":"ARWCKF","t":3512,"v":0.4},{"series":"ARWCKF","t":3537,"v":1.0},{"series":"ARWCKF","t":3562,"v":1.3},{"series":"ARWCKF","t":3587,"v":0.6},{"series":"ARWCKF","t":3612,"v":1.1},{"series":"ARWCKF","t":3637,"v":0.5},{"series":"ARWCKF","t":3662,"v":1.2},{"series":"ARWCKF","t":3687,"v":1.8},{"series":"ARWCKF","t":3712,"v":0.8},{"series":"ARWCKF","t":3737,"v":1.1},
{"series":"ARWCKF","t":3762,"v":0.5},{"series":"ARWCKF","t":3787,"v":1.0},{"series":"ARWCKF","t":3812,"v":0.6},{"series":"ARWCKF","t":3837,"v":1.3},{"series":"ARWCKF","t":3862,"v":0.7},{"series":"ARWCKF","t":3887,"v":1.0},{"series":"ARWCKF","t":3912,"v":0.5},{"series":"ARWCKF","t":3937,"v":1.2},{"series":"ARWCKF","t":3962,"v":0.7},{"series":"ARWCKF","t":3987,"v":1.0}
]
},
"vconcat": [
{
  "width": 539, "height": 178,
  "data": {"name": "position"},
  "layer": [
    {
      "mark": {"type": "line"},
      "encoding": {
        "x": {"field": "t", "type": "quantitative", "scale": {"domain": [0, 4000], "nice": false}, "axis": {"values": [0,500,1000,1500,2000,2500,3000,3500,4000], "title": null}},
        "y": {"field": "v", "type": "quantitative", "scale": {"domain": [0, 30], "nice": false}, "axis": {"values": [0,10,20,30], "title": "ANEESs for position error", "titleY": 62}},
        "color": {"field": "series", "type": "nominal", "scale": {"domain": ["CKF","ARWCKF"], "range": ["#000000","#ff0000"]}, "legend": {"legendY": 238}},
        "strokeDash": {"field": "series", "type": "nominal", "scale": {"domain": ["CKF","ARWCKF"], "range": [[1,3],[1,0]]}, "legend": {"legendY": 238}},
        "strokeWidth": {"field": "series", "type": "nominal", "scale": {"domain": ["CKF","ARWCKF"], "range": [1, 0.6]}, "legend": null}
      }
    },
    {
      "mark": {"type": "line", "opacity": 0},
      "encoding": {
        "x": {"field": "t", "type": "quantitative", "axis": {"orient": "top", "labels": false, "title": null, "values": [0,500,1000,1500,2000,2500,3000,3500,4000]}},
        "y": {"field": "v", "type": "quantitative", "axis": {"orient": "right", "labels": false, "title": null, "values": [0,10,20,30]}},
        "detail": {"field": "series", "type": "nominal"}
      }
    }
  ],
  "resolve": {"axis": {"x": "independent", "y": "independent"}}
},
{
  "width": 539, "height": 177,
  "data": {"name": "velocity"},
  "layer": [
    {
      "mark": {"type": "line"},
      "encoding": {
        "x": {"field": "t", "type": "quantitative", "scale": {"domain": [0, 4000], "nice": false}, "axis": {"values": [0,500,1000,1500,2000,2500,3000,3500,4000], "title": "t (s)", "titlePadding": 13}},
        "y": {"field": "v", "type": "quantitative", "scale": {"domain": [0, 30], "nice": false}, "axis": {"values": [0,10,20,30], "title": "ANEESs for velocity error"}},
        "color": {"field": "series", "type": "nominal", "scale": {"domain": ["CKF","ARWCKF"], "range": ["#000000","#ff0000"]}, "legend": {"legendY": 258}},
        "strokeDash": {"field": "series", "type": "nominal", "scale": {"domain": ["CKF","ARWCKF"], "range": [[1,3],[1,0]]}, "legend": {"legendY": 258}},
        "strokeWidth": {"field": "series", "type": "nominal", "scale": {"domain": ["CKF","ARWCKF"], "range": [1, 0.6]}, "legend": null}
      }
    },
    {
      "mark": {"type": "line", "opacity": 0},
      "encoding": {
        "x": {"field": "t", "type": "quantitative", "axis": {"orient": "top", "labels": false, "title": null, "values": [0,500,1000,1500,2000,2500,3000,3500,4000]}},
        "y": {"field": "v", "type": "quantitative", "axis": {"orient": "right", "labels": false, "title": null, "values": [0,10,20,30]}},
        "detail": {"field": "series", "type": "nominal"}
      }
    }
  ],
  "resolve": {"axis": {"x": "independent", "y": "independent"}}
}
],
"resolve": {"scale": {"color": "independent", "strokeDash": "independent", "strokeWidth": "independent"}}
}
